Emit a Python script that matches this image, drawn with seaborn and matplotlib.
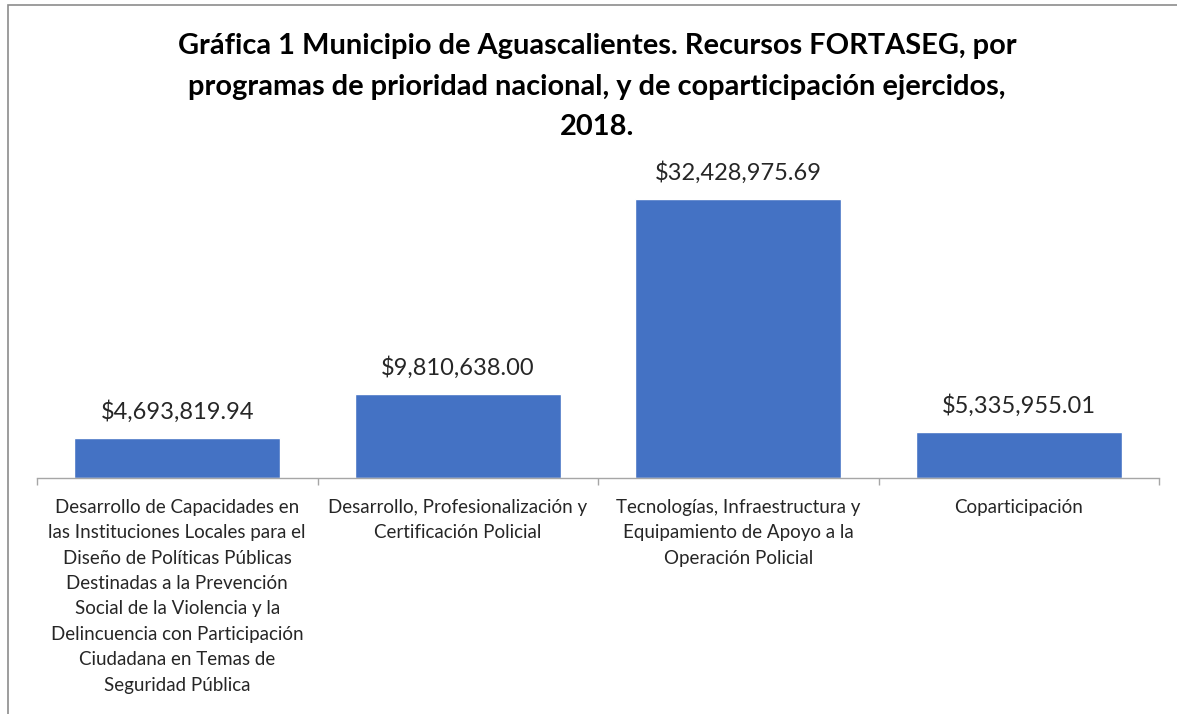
import matplotlib
matplotlib.use("Agg")
import matplotlib.pyplot as plt
import seaborn as sns
import pandas as pd
from matplotlib.patches import Rectangle

# Data
categories = [
    "Desarrollo de Capacidades en\nlas Instituciones Locales para el\nDiseño de Políticas Públicas\nDestinadas a la Prevención\nSocial de la Violencia y la\nDelincuencia con Participación\nCiudadana en Temas de\nSeguridad Pública",
    "Desarrollo, Profesionalización y\nCertificación Policial",
    "Tecnologías, Infraestructura y\nEquipamiento de Apoyo a la\nOperación Policial",
    "Coparticipación",
]
amounts = [4693819.94, 9810638.00, 32428975.69, 5335955.01]
labels = ["$4,693,819.94", "$9,810,638.00", "$32,428,975.69", "$5,335,955.01"]

df = pd.DataFrame({"programa": categories, "monto": amounts})

sns.set_style("white")
plt.rcParams['font.family'] = ['Lato', 'DejaVu Sans']

W, H = 1177, 714
fig = plt.figure(figsize=(W / 100, H / 100), dpi=100)
ax = fig.add_axes([37 / W, 1 - 478 / H, (1159 - 37) / W, (478 - 177) / H])

sns.barplot(data=df, x="programa", y="monto", color="#4472C4", width=0.735,
            saturation=1, ax=ax)

ax.set_ylim(0, 35e6)
ax.set_xlim(-0.5, 3.5)
ax.set_xlabel("")
ax.set_ylabel("")
ax.set_yticks([])
for s in ["top", "right", "left"]:
    ax.spines[s].set_visible(False)
ax.spines["bottom"].set_color("#A6A6A6")
ax.spines["bottom"].set_linewidth(1.0)

# tick marks at category boundaries
ax.set_xticks(range(len(categories)))
ax.set_xticklabels(categories, fontsize=13.5, color="#262626", linespacing=1.6,
                   va="top", ha="center")
ax.set_xticks([-0.5, 0.5, 1.5, 2.5, 3.5], minor=True)
ax.tick_params(axis="x", which="minor", bottom=True, length=5, color="#A6A6A6",
               width=1.0, direction="out")
ax.tick_params(axis="x", which="major", bottom=False, length=0, pad=15)

for i, (v, lab) in enumerate(zip(amounts, labels)):
    ax.annotate(lab, (i, v), xytext=(0, 11), textcoords="offset points",
                ha="center", va="bottom", fontsize=17, color="#262626")

fig.text(597 / W, 1 - 33 / H,
         "Gráfica 1 Municipio de Aguascalientes. Recursos FORTASEG, por\n"
         "programas de prioridad nacional, y de coparticipación ejercidos,\n2018.",
         ha="center", va="top", fontsize=20.9, fontweight="bold",
         color="#000000", linespacing=1.7)

# chart border (partially cropped in the reference)
fig.patches.append(Rectangle((8 / W, -0.1), 1.2, 1 - 5 / H + 0.1,
                             transform=fig.transFigure, fill=False,
                             edgecolor="#8C8C8C", linewidth=1.2))

fig.savefig("out.png", dpi=100)
